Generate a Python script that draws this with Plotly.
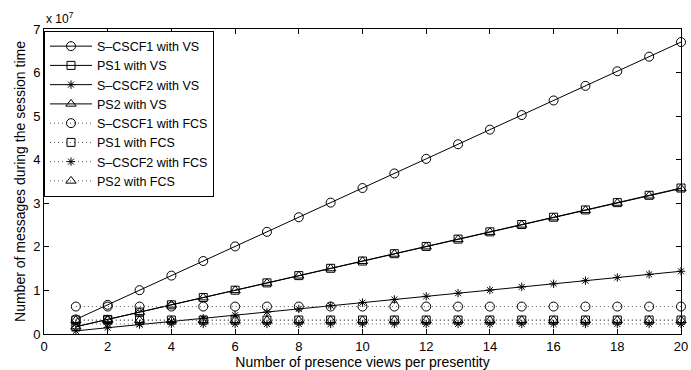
import plotly.graph_objects as go

# Number of presence views per presentity
views = list(range(1, 21))

# Messages during the session time, in units of 10^7
s_cscf1_vs = [0.335, 0.67, 1.005, 1.34, 1.675, 2.01, 2.345, 2.68, 3.015, 3.35,
              3.685, 4.02, 4.355, 4.69, 5.025, 5.36, 5.695, 6.03, 6.365, 6.70]
ps1_vs = [0.168, 0.335, 0.503, 0.67, 0.838, 1.005, 1.173, 1.34, 1.508, 1.675,
          1.843, 2.01, 2.178, 2.345, 2.513, 2.68, 2.848, 3.015, 3.183, 3.35]
s_cscf2_vs = [0.072, 0.144, 0.216, 0.288, 0.36, 0.432, 0.504, 0.576, 0.648, 0.72,
              0.792, 0.864, 0.936, 1.008, 1.08, 1.152, 1.224, 1.296, 1.368, 1.44]
ps2_vs = [0.167, 0.334, 0.501, 0.668, 0.835, 1.002, 1.169, 1.336, 1.503, 1.67,
          1.837, 2.004, 2.171, 2.338, 2.505, 2.672, 2.839, 3.006, 3.173, 3.34]
s_cscf1_fcs = [0.63] * 20
ps1_fcs = [0.32] * 20
s_cscf2_fcs = [0.23] * 20
ps2_fcs = [0.315] * 20

y_ticks = [0, 1, 2, 3, 4, 5, 6, 7]
x_ticks = [0, 2, 4, 6, 8, 10, 12, 14, 16, 18, 20]

series = [
    ("S–CSCF1 with VS", s_cscf1_vs, "circle-open", "solid", 9),
    ("PS1 with VS", ps1_vs, "square-open", "solid", 8),
    ("S–CSCF2 with VS", s_cscf2_vs, "asterisk-open", "solid", 7),
    ("PS2 with VS", ps2_vs, "triangle-up-open", "solid", 9),
    ("S–CSCF1 with FCS", s_cscf1_fcs, "circle-open", "1px,3px", 9),
    ("PS1 with FCS", ps1_fcs, "square-open", "1px,3px", 8),
    ("S–CSCF2 with FCS", s_cscf2_fcs, "asterisk-open", "1px,3px", 7),
    ("PS2 with FCS", ps2_fcs, "triangle-up-open", "1px,3px", 9),
]

fig = go.Figure()
for name, vals, symbol, dash, size in series:
    fig.add_trace(go.Scatter(
        x=views, y=vals, name=name, mode="lines+markers",
        line=dict(color="#000000" if dash == "solid" else "#555555", width=1, dash=dash),
        marker=dict(symbol=symbol, size=size, color="#000000",
                    line=dict(color="#000000", width=1)),
        cliponaxis=False,
    ))

font_family = "Liberation Sans, Arial, Helvetica, sans-serif"

axis_common = dict(
    showline=True, linecolor="#000000", linewidth=1, mirror="ticks",
    ticks="inside", ticklen=5, tickcolor="#000000", tickwidth=1,
    showgrid=False, zeroline=False, automargin=False,
    tickfont=dict(family=font_family, size=13, color="#000000"),
)

fig.update_layout(
    width=691, height=370,
    margin=dict(l=44, r=10, t=29, b=36),
    paper_bgcolor="#ffffff", plot_bgcolor="#ffffff",
    font=dict(family=font_family, size=13, color="#000000"),
    xaxis=dict(range=[0, 20], tickvals=x_ticks, ticktext=[str(v) for v in x_ticks],
               title=dict(text="Number of presence views per presentity",
                          font=dict(size=14), standoff=2),
               **axis_common),
    yaxis=dict(range=[0, 7], tickvals=y_ticks, ticktext=[str(v) for v in y_ticks],
               title=dict(text="Number of messages during the session time",
                          font=dict(size=14), standoff=4),
               **axis_common),
    legend=dict(x=0, y=0.995, xanchor="left", yanchor="top",
                bgcolor="#ffffff", bordercolor="#000000", borderwidth=1,
                font=dict(family=font_family, size=12.5, color="#000000"),
                itemwidth=42, tracegroupgap=0),
    showlegend=True,
)

fig.add_annotation(
    xref="paper", yref="paper", x=0, y=1, xanchor="left", yanchor="bottom",
    text="x 10<sup>7</sup>", showarrow=False, yshift=1,
    font=dict(family=font_family, size=12, color="#000000"),
)

fig.write_html("out.html")
